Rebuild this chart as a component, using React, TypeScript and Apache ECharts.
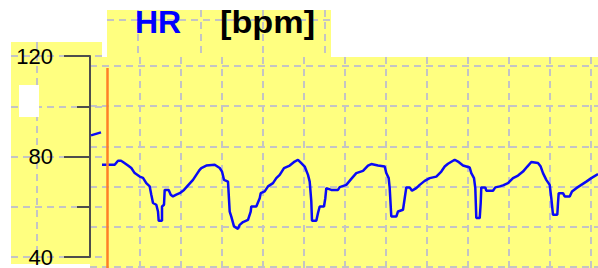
import React, { useEffect, useRef } from "react";
import * as echarts from "echarts";

// ---- data ----
const yMin = 40;
const yMax = 120;
const yLabelStep = 40; // labelled ticks: 40, 80, 120
const yGridStep = 20; // dashed grid in the left panel
const titleParts = ["HR", "[bpm]"];
const sampleMax = 508; // sample index at the right edge
const cursorSample = 17.5;
// short piece of the previous trace visible at the left edge
const prevTrace: [number, number][] = [
  [1, 88.4],
  [11, 89.6],
];
// [sample index, heart rate bpm]
const hrTrace: [number, number][] = [
  [12, 76.7], [24.7, 76.7], [28, 78.3], [31, 78.3], [33, 77.8], [38, 76.4], [41.3, 75.4], [44.7, 73.4],
  [49.7, 72.0], [53, 71.5], [56.3, 69.4], [59.7, 68.1], [61.3, 64.8], [63, 61.5], [66.3, 60.8], [68, 58.1],
  [68.7, 54.4], [72, 54.4], [72, 60.1], [74, 60.8], [74.7, 66.7], [78.7, 66.7], [80.7, 64.8], [83, 64.1],
  [86.3, 64.8], [89.7, 65.4], [94, 66.7], [98, 68.5], [103, 70.7], [106.3, 72.7], [109.7, 74.7], [111.3, 75.4],
  [116.3, 76.4], [124.7, 76.7], [129.7, 75.4], [132, 74.0], [134, 70.7], [138, 70.0], [139.7, 58.1], [141.3, 56.1],
  [144, 52.2], [148, 51.2], [149.7, 52.8], [153, 53.9], [158, 54.8], [160.7, 58.1], [161.3, 60.1], [166.3, 60.1],
  [169.7, 63.4], [170.7, 65.4], [174.7, 66.1], [178, 68.1], [183, 69.4], [186.3, 71.4], [189.7, 72.7], [194, 75.4],
  [199.7, 76.4], [204.7, 78.0], [208, 78.7], [211.3, 77.4], [214.7, 76.0], [218, 72.7], [219.7, 70.0], [221.3, 62.1],
  [222, 54.4], [226.3, 54.4], [228, 57.5], [229.7, 60.1], [234, 60.1], [235.3, 63.4], [236.3, 67.4], [241.3, 66.7],
  [248, 66.7], [249.7, 67.8], [256.3, 68.7], [261.3, 71.1], [266.3, 73.4], [273, 74.3], [278, 76.4], [281.3, 77.0],
  [288, 76.4], [294.7, 76.0], [296.3, 73.4], [298.7, 71.4], [299.7, 67.4], [301.3, 56.1], [306.3, 56.1], [308, 58.1],
  [313, 58.8], [314.7, 63.4], [316.3, 67.7], [319.7, 67.7], [322, 66.4], [326.3, 67.4], [329.7, 68.7], [334.7, 70.3],
  [339.7, 71.4], [346.3, 72.0], [351.3, 74.0], [354.7, 76.0], [358, 77.1], [364.7, 78.7], [368, 78.0], [373, 76.4],
  [379.7, 75.6], [381.3, 73.4], [384, 71.4], [385.3, 67.4], [386.3, 55.5], [389.7, 55.5], [390.7, 61.5], [391.3, 67.7],
  [395.3, 67.7], [396.3, 66.4], [403, 66.4], [405.3, 67.7], [409.7, 68.1], [413, 68.5], [418, 69.4], [423, 71.4],
  [428, 72.4], [433, 74.0], [437.3, 76.0], [441.3, 77.8], [448, 77.4], [450.7, 76.0], [453, 73.4], [456.3, 70.7],
  [459.7, 68.7], [461.3, 63.4], [463, 56.8], [467.3, 56.8], [468, 61.5], [468.7, 65.4], [473, 65.4], [474.7, 64.1],
  [479.7, 64.1], [482, 66.1], [486.3, 67.4], [491.3, 68.7], [496.3, 70.0], [501.3, 71.4], [508, 73.0],
];

// ---- styles ----
const YELLOW = "#FFFF80";
const GRID_LINE = { color: "#C4C4C4", width: 2, type: [7, 5] as number[] };
const AXIS_COLOR = "#4D4D4D";
const LINE_BLUE = "#0A0AF5";
const CURSOR = "#FF7F27";
const FONT = '"Liberation Sans", Arial, sans-serif';

function hiddenAxis(gridIndex: number, min = 0, max = 1) {
  return { type: "value", gridIndex, min, max, show: false };
}
function splitAxis(gridIndex: number, min: number, max: number, interval: number, showMinLine: boolean, showMaxLine: boolean) {
  return {
    type: "value",
    gridIndex,
    min,
    max,
    interval,
    axisLine: { show: false },
    axisTick: { show: false },
    axisLabel: { show: false },
    splitLine: { show: true, showMinLine, showMaxLine, lineStyle: GRID_LINE },
  };
}

export default function App() {
  const ref = useRef<HTMLDivElement>(null);
  useEffect(() => {
    if (!ref.current) return;
    const chart = echarts.init(ref.current, undefined, { renderer: "svg" });
    const g = (left: number, top: number, width: number, height: number) => ({
      left, top, width, height, outerBoundsMode: "none", containLabel: false,
    });
    const option: any = {
      animation: false,
      backgroundColor: "#FFFFFF",
      grid: [
        g(11, 56, 91, 201), // 0 left panel horizontal dashes
        g(37, 42, 55, 222), // 1 left panel vertical dash
        g(107, 20, 224, 37), // 2 title panel horizontal dash
        g(138, 10, 187, 47), // 3 title panel vertical dashes
        g(99, 57, 499, 211), // 4 plot vertical dashes
        g(90, 25.8, 508, 241.2), // 5 plot horizontal dashes
        g(90, 56, 8, 201), // 6 y axis
        g(90, 56, 508, 201), // 7 data
        g(90, 68, 508, 200), // 8 cursor
      ],
      xAxis: [
        hiddenAxis(0),
        splitAxis(1, 0, 1, 1, true, false),
        hiddenAxis(2),
        splitAxis(3, 0, 3, 1, true, true),
        splitAxis(4, 0, 499 / 41, 1, false, false),
        hiddenAxis(5),
        hiddenAxis(6),
        hiddenAxis(7, 0, sampleMax),
        hiddenAxis(8, 0, sampleMax),
      ],
      yAxis: [
        splitAxis(0, yMin, yMax, yGridStep, true, true),
        hiddenAxis(1),
        splitAxis(2, 0, 1, 1, false, true),
        hiddenAxis(3),
        hiddenAxis(4),
        splitAxis(5, 0, 6, 1, true, false),
        {
          type: "value",
          gridIndex: 6,
          min: yMin,
          max: yMax,
          interval: yLabelStep,
          position: "left",
          axisLine: { show: true, lineStyle: { color: AXIS_COLOR, width: 2 } },
          axisTick: { show: true, length: 26, lineStyle: { color: AXIS_COLOR, width: 2 } },
          minorTick: { show: true, splitNumber: 2, length: 13, lineStyle: { color: AXIS_COLOR, width: 2 } },
          axisLabel: { margin: 37, color: "#000000", fontSize: 22, fontFamily: FONT },
          splitLine: { show: false },
          minorSplitLine: { show: false },
        },
        hiddenAxis(7, yMin, yMax),
        hiddenAxis(8, 0, 1),
      ],
      graphic: [
        { type: "rect", z: -10, shape: { x: 11, y: 42, width: 91, height: 222 }, style: { fill: YELLOW } },
        { type: "rect", z: -10, shape: { x: 107, y: 10, width: 224, height: 47 }, style: { fill: YELLOW } },
        { type: "rect", z: -10, shape: { x: 90, y: 57, width: 508, height: 211 }, style: { fill: YELLOW } },
        { type: "rect", z: 1, shape: { x: 19, y: 85, width: 20, height: 32 }, style: { fill: "#FFFFFF" } },
        {
          type: "text", z: 10, x: 135, y: 21.5,
          style: { text: titleParts[0], fill: "#0000FF", font: `bold 32px ${FONT}`, verticalAlign: "middle" },
        },
        {
          type: "text", z: 10, x: 220, y: 21.5, scaleX: 1.07,
          style: { text: titleParts[1], fill: "#000000", font: `bold 32px ${FONT}`, verticalAlign: "middle" },
        },
      ],
      series: [
        {
          type: "line", name: "HR previous", xAxisIndex: 7, yAxisIndex: 7, data: prevTrace,
          showSymbol: false, lineStyle: { color: LINE_BLUE, width: 2.5 }, itemStyle: { color: LINE_BLUE },
        },
        {
          type: "line", name: "HR", xAxisIndex: 7, yAxisIndex: 7, data: hrTrace,
          showSymbol: false, lineStyle: { color: LINE_BLUE, width: 2.5 }, itemStyle: { color: LINE_BLUE },
        },
        {
          type: "line", name: "cursor", xAxisIndex: 8, yAxisIndex: 8,
          data: [[cursorSample, 0], [cursorSample, 1]],
          showSymbol: false, lineStyle: { color: CURSOR, width: 2.5 }, itemStyle: { color: CURSOR },
        },
      ],
    };
    chart.setOption(option);
    return () => chart.dispose();
  }, []);
  return <div ref={ref} style={{ position: "fixed", left: 0, top: 0, width: 598, height: 268 }} />;
}
